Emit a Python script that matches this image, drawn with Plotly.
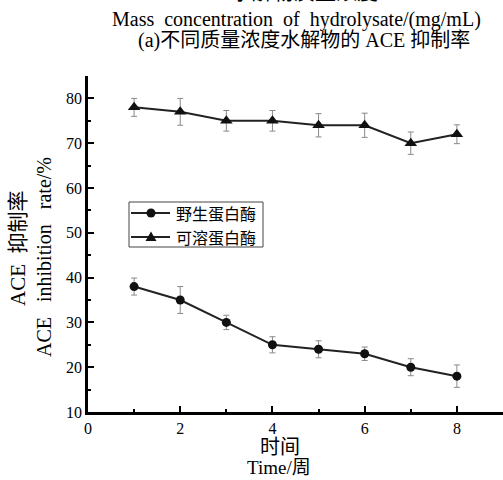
import plotly.graph_objects as go

weeks = [1, 2, 3, 4, 5, 6, 7, 8]
wild_vals = [38, 35, 30, 25, 24, 23, 20, 18]
wild_err = [1.9, 3.0, 1.6, 1.8, 1.9, 1.5, 1.9, 2.5]
soluble_vals = [78, 77, 75, 75, 74, 74, 70, 72]
soluble_err = [2.0, 3.0, 2.3, 2.3, 2.6, 2.7, 2.5, 2.1]
series_names = ["野生蛋白酶", "可溶蛋白酶"]
x_ticks = [0, 2, 4, 6, 8]
y_ticks = [10, 20, 30, 40, 50, 60, 70, 80]

serif = "Liberation Serif, Noto Sans CJK SC, serif"
err_style = dict(type="data", thickness=1, width=3, color="#8a8a8a")

fig = go.Figure()
fig.add_trace(go.Scatter(
    x=weeks, y=wild_vals, name=series_names[0], mode="lines+markers",
    line=dict(color="#222222", width=2),
    marker=dict(symbol="circle", size=9, color="#111111"),
    error_y=dict(array=wild_err, **err_style),
    showlegend=False,
))
fig.add_trace(go.Scatter(
    x=weeks, y=soluble_vals, name=series_names[1], mode="lines+markers",
    line=dict(color="#222222", width=2),
    marker=dict(symbol="triangle-up", size=11, color="#111111"),
    error_y=dict(array=soluble_err, **err_style),
    showlegend=False,
))

axis_common = dict(
    showline=True, linecolor="black", linewidth=2.5, showgrid=False, zeroline=False,
    ticks="inside", ticklen=6, tickwidth=1.5, tickcolor="black",
    tickfont=dict(family=serif, size=16, color="black"),
)
fig.update_xaxes(range=[0, 9], tickvals=x_ticks,
                 minor=dict(ticks="inside", ticklen=3, tickwidth=1.5, tickcolor="black", dtick=1, tick0=0),
                 **axis_common)
fig.update_yaxes(range=[10, 85], tickvals=y_ticks,
                 minor=dict(ticks="inside", ticklen=3, tickwidth=1.5, tickcolor="black", dtick=5, tick0=10),
                 **axis_common)

fig.update_layout(
    width=503, height=480,
    margin=dict(l=88, r=0, t=76, b=68),
    plot_bgcolor="white", paper_bgcolor="white",
    showlegend=False,
    font=dict(family=serif, color="black"),
)

# paper coords: plot x from 88 to 503 px, y from 76 (top) to 412 (bottom)
def px(xp):
    return (xp - 88) / 415.0
def py(yp):
    return (412 - yp) / 336.0

def ann(text, x, y, size=16, angle=0, xanchor="center", family=serif):
    fig.add_annotation(text=text, x=px(x), y=py(y), xref="paper", yref="paper",
                       xanchor=xanchor, yanchor="middle", showarrow=False, borderpad=0,
                       textangle=angle, font=dict(family=family, size=size, color="black"))

sp2 = "&nbsp;&nbsp;"
sp3 = "&nbsp;&nbsp;&nbsp;"
ann("水解物质量浓度", 304, -8, size=21)
ann(sp2.join(["Mass", "concentration", "of", "hydrolysate/(mg/mL)"]), 296, 20, size=20)
ann("(a)不同质量浓度水解物的 ACE 抑制率", 304, 41, size=20)
ann(sp2.join(["ACE", "抑制率"]), 18, 248, size=21, angle=-90)
ann(sp3.join(["ACE", "inhibition", "rate/%"]), 44, 257, size=20, angle=-90)
ann("时间", 280, 447, size=20)
ann("Time/周", 279, 467, size=19)

# manual legend
fig.add_shape(type="rect", xref="paper", yref="paper",
              x0=px(129), x1=px(263), y0=py(247), y1=py(202),
              line=dict(color="#444444", width=1), fillcolor="white", layer="above")
rows = [213, 237]
for i, yy in enumerate(rows):
    fig.add_shape(type="line", xref="paper", yref="paper",
                  x0=px(131), x1=px(170), y0=py(yy), y1=py(yy),
                  line=dict(color="#222222", width=2), layer="above")
    ann(series_names[i], 175, yy, size=16, xanchor="left", family="Noto Sans CJK SC")
fig.add_shape(type="circle", xref="paper", yref="paper", xsizemode="pixel", ysizemode="pixel",
              xanchor=px(151), yanchor=py(rows[0]), x0=-4.5, x1=4.5, y0=-4.5, y1=4.5,
              fillcolor="#111111", line=dict(color="#111111", width=0), layer="above")
fig.add_shape(type="path", xref="paper", yref="paper", xsizemode="pixel", ysizemode="pixel",
              xanchor=px(151), yanchor=py(rows[1]), path="M -5.5,-4 L 5.5,-4 L 0,5.5 Z",
              fillcolor="#111111", line=dict(color="#111111", width=0), layer="above")

fig.write_html("out.html")
